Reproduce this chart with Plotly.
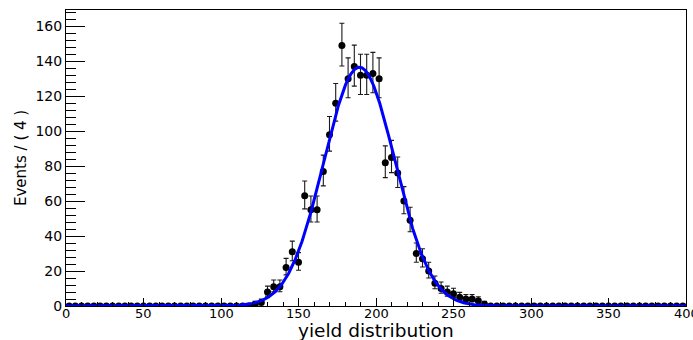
import numpy as np
import plotly.graph_objects as go

# Histogram: bin width 4 over [0, 400]; only the filled bins are listed,
# every other bin is empty.
BIN_WIDTH = 4
X_MIN, X_MAX = 0, 400
filled_centers = [122, 126, 130, 134, 138, 142, 146, 150, 154, 158, 162, 166,
                  170, 174, 178, 182, 186, 190, 194, 198, 202, 206, 210, 214,
                  218, 222, 226, 230, 234, 238, 242, 246, 250, 254, 258, 262,
                  266, 270]
filled_counts = [1, 2, 8, 11, 11, 22, 31, 25, 63, 55, 55, 77,
                 98, 116, 149, 130, 137, 132, 132, 133, 130, 82, 85, 76,
                 60, 49, 30, 27, 20, 13, 10, 8, 7, 5, 4, 4,
                 3, 1]

# Gaussian fit result
fit_mean = 189.3
fit_sigma = 22.9
fit_yield = 1960

x_tick_vals = [0, 50, 100, 150, 200, 250, 300, 350, 400]
y_tick_vals = [0, 20, 40, 60, 80, 100, 120, 140, 160]

x_title = "yield distribution"
y_title = "Events / ( 4 )"

# full set of bin centres, empty bins get zero
centers = np.arange(X_MIN + BIN_WIDTH / 2, X_MAX, BIN_WIDTH)
counts = np.zeros_like(centers)
lookup = dict(zip(filled_centers, filled_counts))
for i, c in enumerate(centers):
    counts[i] = lookup.get(int(c), 0)

# approximate Poisson (Garwood-like) asymmetric errors
err_hi = np.sqrt(counts + 0.25) + 0.5
err_lo = np.where(counts > 0, np.sqrt(counts + 0.25) - 0.5, 0.0)

# fitted pdf scaled to events per bin
xc = np.linspace(X_MIN, X_MAX, 1601)
yc = fit_yield * BIN_WIDTH / (np.sqrt(2 * np.pi) * fit_sigma) * \
    np.exp(-0.5 * ((xc - fit_mean) / fit_sigma) ** 2)

font_family = "DejaVu Sans, Liberation Sans, Arial, sans-serif"

fig = go.Figure()
fig.add_trace(go.Scatter(
    x=centers, y=counts, mode="markers",
    marker=dict(color="black", size=7),
    error_y=dict(type="data", symmetric=False, array=err_hi, arrayminus=err_lo,
                 color="#1a1a1a", thickness=1.1, width=2.5),
    showlegend=False, hoverinfo="x+y",
))
fig.add_trace(go.Scatter(
    x=xc, y=yc, mode="lines",
    line=dict(color="#0000ff", width=3),
    showlegend=False, hoverinfo="skip",
))

fig.update_layout(
    width=693, height=340,
    margin=dict(l=66, r=7, t=10, b=34),
    paper_bgcolor="white", plot_bgcolor="white",
    font=dict(family=font_family, color="black", size=14),
)
fig.update_xaxes(
    range=[X_MIN, X_MAX], tickvals=x_tick_vals, showticklabels=False,
    ticks="inside", ticklen=8, tickwidth=1, tickcolor="black",
    minor=dict(dtick=10, ticks="inside", ticklen=4, tickwidth=1, tickcolor="black", showgrid=False),
    showline=True, linecolor="black", linewidth=1, mirror=True,
    showgrid=False, zeroline=False,
)
fig.update_yaxes(
    range=[0, 169.3], tickvals=y_tick_vals, ticktext=[str(v) for v in y_tick_vals],
    ticks="inside", ticklen=19, tickwidth=1, tickcolor="black",
    minor=dict(dtick=4, ticks="inside", ticklen=10, tickwidth=1, tickcolor="black", showgrid=False),
    showline=True, linecolor="black", linewidth=1, mirror=True,
    showgrid=False, zeroline=False, tickfont=dict(size=14),
)

# x tick labels placed just under the axis (the last one runs off the page edge)
for v in x_tick_vals:
    fig.add_annotation(
        text=str(v), xref="x", yref="paper", x=v, y=0, yshift=-7.5,
        xanchor="center", yanchor="middle", showarrow=False, borderpad=0,
        font=dict(size=13, family=font_family),
    )

fig.add_annotation(
    text=x_title, xref="paper", yref="paper", x=0.5, y=0, yshift=-24.5,
    xanchor="center", yanchor="middle", showarrow=False, borderpad=0,
    font=dict(size=18.5, family=font_family),
)
fig.add_annotation(
    text=y_title, xref="paper", yref="paper", x=0, y=0.5, xshift=-45,
    xanchor="center", yanchor="middle", textangle=-90, showarrow=False,
    font=dict(size=15, family=font_family),
)

fig.write_html("out.html")
